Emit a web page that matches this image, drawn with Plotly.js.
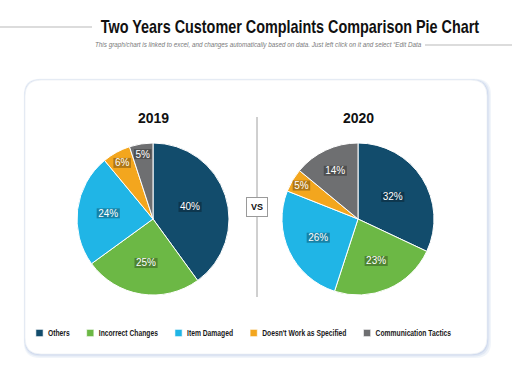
<!DOCTYPE html>
<html><head><meta charset="utf-8">
<script src="https://cdn.plot.ly/plotly-3.0.1.min.js"></script>
<style>html,body{margin:0;padding:0;background:#fff}#c{width:512px;height:384px}
.legend text, .legend tspan{fill:#1a1a1a !important;}</style>
</head><body><div id="c"></div>
<script>
const categories = ["Others", "Incorrect Changes", "Item Damaged", "Doesn't Work as Specified", "Communication Tactics"];
const values2019 = [40, 25, 24, 6, 5];
const values2020 = [32, 23, 26, 5, 14];
const colors = ["#124c6c", "#6cb845", "#20b5e6", "#f3a61e", "#6e6f71"];
const years = ["2019", "2020"];
const titleText = "Two Years Customer Complaints Comparison Pie Chart";
const subtitleText = "This graph/chart is linked to excel, and changes automatically based on data. Just left click on it and select \u201cEdit Data";

const W = 512, H = 384;
const px = x => x / W, py = y => 1 - y / H;
const sans = "Liberation Sans, Arial, sans-serif";

function pie(vals, x0, x1, show) {
  return {
    type: 'pie', values: vals, labels: categories, sort: false, direction: 'clockwise', rotation: 0,
    marker: {colors: colors, line: {color: '#ffffff', width: 1}},
    textinfo: 'percent', texttemplate: '%{percent:.0%}', textposition: 'inside',
    insidetextorientation: 'horizontal',
    textfont: {color: '#ffffff', size: 10, family: sans},
    domain: {x: [px(x0), px(x1)], y: [py(295), py(143)]},
    showlegend: show, hoverinfo: 'label+percent'
  };
}

function rrect(x0, y0, x1, y1, r) {
  return `M${px(x0+r)},${py(y0)} L${px(x1-r)},${py(y0)} Q${px(x1)},${py(y0)} ${px(x1)},${py(y0+r)} L${px(x1)},${py(y1-r)} Q${px(x1)},${py(y1)} ${px(x1-r)},${py(y1)} L${px(x0+r)},${py(y1)} Q${px(x0)},${py(y1)} ${px(x0)},${py(y1-r)} L${px(x0)},${py(y0+r)} Q${px(x0)},${py(y0)} ${px(x0+r)},${py(y0)} Z`;
}

const shapes = [];
[[4,'rgba(200,214,235,0.25)'],[2.5,'rgba(195,210,232,0.35)'],[1.2,'rgba(190,205,230,0.45)']].forEach(([d,c]) => {
  shapes.push({type:'path', xref:'paper', yref:'paper', path: rrect(25-d*0.3, 80-d*0.3, 487+d, 354+d, 16), fillcolor: c, line:{width:0}, layer:'below'});
});
shapes.push({type:'path', xref:'paper', yref:'paper', path: rrect(25, 80, 487, 354, 16), fillcolor:'#ffffff', line:{color:'#eef1f5', width:0.8}, layer:'below'});
shapes.push({type:'line', xref:'paper', yref:'paper', x0:px(0), x1:px(92), y0:py(27), y1:py(27), line:{color:'#d0d0d0', width:1.5}});
shapes.push({type:'line', xref:'paper', yref:'paper', x0:px(425), x1:px(512), y0:py(45), y1:py(45), line:{color:'#d0d0d0', width:1.5}});
shapes.push({type:'line', xref:'paper', yref:'paper', x0:px(257), x1:px(257), y0:py(117), y1:py(297), line:{color:'#a0a0a0', width:1}});

const annotations = [
  {text: subtitleText, x: px(258), y: py(45), xref:'paper', yref:'paper', showarrow:false, xanchor:'center', yanchor:'middle',
   font:{size:6.3, color:'#7a7a7a', family:sans, style:'italic'}},
  {text: '<b>' + years[0] + '</b>', x: px(153), y: py(118), xref:'paper', yref:'paper', showarrow:false, xanchor:'center', yanchor:'middle', font:{size:14, color:'#111', family:sans}},
  {text: '<b>' + years[1] + '</b>', x: px(358), y: py(118), xref:'paper', yref:'paper', showarrow:false, xanchor:'center', yanchor:'middle', font:{size:14, color:'#111', family:sans}},
  {text: '<b>VS</b>', x: px(257), y: py(207), xref:'paper', yref:'paper', showarrow:false, xanchor:'center', yanchor:'middle', bgcolor:'#ffffff', bordercolor:'#9a9a9a', borderwidth:1, borderpad:4,
   font:{size:9, color:'#111', family:sans}}
];

const layout = {
  width: W, height: H, margin: {l:0, r:0, t:0, b:0},
  paper_bgcolor: '#ffffff',
  title: {text: '<b>' + titleText + '</b>', x: px(290), xanchor:'center', y: py(27), yanchor:'middle', xref:'paper', yref:'paper',
          font: {size: 18, color:'#111', family: sans}},
  legend: {orientation:'h', x: px(36), xanchor:'left', y: py(333), yanchor:'middle', traceorder:'normal',
           font:{size:5, color:'#1a1a1a', family: sans, weight: 'bold'}, itemwidth: 30, bgcolor:'rgba(0,0,0,0)'},
  shapes: shapes, annotations: annotations
};

const gd = document.getElementById('c');
const SVGNS = 'http://www.w3.org/2000/svg';
Plotly.newPlot(gd, [pie(values2019, 77, 229, true), pie(values2020, 282, 434, false)], layout, {displayModeBar:false, staticPlot:true}).then(() => {
  const t = gd.querySelector('.gtitle');
  if (t) {
    const cx = parseFloat(t.getAttribute('x'));
    t.setAttribute('transform', `translate(${cx},0) scale(0.8,1) translate(${-cx},0)`);
  }
  gd.querySelectorAll('g.slice text.slicetext').forEach(tx => {
    const b = tx.getBBox();
    const r = document.createElementNS(SVGNS, 'rect');
    r.setAttribute('x', b.x - 1.5); r.setAttribute('y', b.y + 0.5);
    r.setAttribute('width', b.width + 3); r.setAttribute('height', b.height - 1);
    r.setAttribute('fill', 'rgba(0,0,0,0.28)');
    const tr = tx.getAttribute('transform'); if (tr) r.setAttribute('transform', tr);
    tx.parentNode.insertBefore(r, tx);
  });
  const sb = gd.querySelector('.legend .scrollbox');
  if (sb) sb.removeAttribute('clip-path');
  const items = gd.querySelectorAll('.legend .traces');
  const condense = 0.75, fs = 9;
  let cur = null, y0 = 0;
  items.forEach((g, i) => {
    const m = /translate\(\s*([-\d.]+)[ ,]+([-\d.]+)\s*\)/.exec(g.getAttribute('transform') || '');
    if (i === 0) { cur = m ? parseFloat(m[1]) : 0; y0 = m ? parseFloat(m[2]) : 0; }
    g.setAttribute('transform', `translate(${cur},${y0})`);
    const p = g.querySelector('path.legendpie');
    if (p) p.setAttribute('transform', 'translate(3.5,0) scale(0.6)');
    const tx = g.querySelector('text.legendtext');
    let w = 0;
    if (tx) {
      tx.style.setProperty('font-size', fs + 'px', 'important');
      tx.style.setProperty('fill', '#1a1a1a', 'important');
      tx.style.setProperty('font-weight', 'bold', 'important');
      tx.setAttribute('x', 0);
      tx.setAttribute('y', (fs * 0.35).toFixed(2));
      w = tx.getComputedTextLength() * condense;
      tx.setAttribute('transform', `translate(12,0) scale(${condense},1)`);
    }
    cur += 12 + w + 17;
  });
});
</script></body></html>
